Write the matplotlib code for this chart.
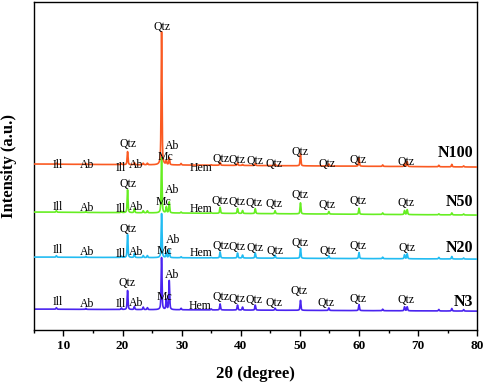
import numpy as np
import matplotlib
matplotlib.use("Agg")
import matplotlib.pyplot as plt

# ---- data (y in arbitrary units) ----
series_names = ["N3", "N20", "N50", "N100"]
colors = ["#4a24f0", "#22bcf2", "#66ee22", "#fa5a22"]
baseline_start = [21, 73, 118, 166]   # intensity offset at 5 deg
baseline_end = [19, 71, 115, 163]     # intensity offset at 80 deg

peak_pos = [8.8, 13.8, 19.8, 20.85, 22.0, 23.5, 24.2, 26.6, 27.4, 27.9,
            29.9, 35.0, 36.5, 39.45, 40.3, 42.45, 45.8, 50.1, 54.9, 60.0,
            64.0, 67.7, 68.15, 73.5, 75.7, 77.7]
heights = {
    "N100": [1, 1, 1, 13, 2, 1.5, 1.5, 133, 4, 7, 1.5, 0.5, 3, 2.5, 1, 2, 1.5,
             12, 2, 8, 1.5, 3, 5, 1.5, 2.5, 1],
    "N50": [1.5, 1, 1.5, 23, 4, 2, 2, 55, 6, 11, 1, 0.5, 6, 5, 3, 5, 3,
            11, 2.5, 6, 1.5, 4, 5, 1, 2, 1],
    "N20": [1.5, 1, 1.5, 23, 4, 2, 2, 44, 5, 8, 1, 0.5, 6, 5, 3, 5, 3,
            10, 2.5, 6, 1.5, 4, 5, 1.5, 2.5, 1],
    "N3": [1.5, 1, 1.5, 19, 3, 2.5, 2, 52, 10, 29, 1.5, 1, 6, 5, 3, 5, 2,
           10, 2.5, 6, 1.5, 4, 4, 1.5, 2.5, 1.5],
}

# phase labels: (text, x, y)
labels = {
    "N100": [("Ill", 9.1, 165), ("Ab", 14.0, 165), ("Ill", 19.7, 162), ("Ab", 22.3, 165),
             ("Qtz", 20.9, 186), ("Qtz", 26.6, 303), ("Ab", 28.4, 184), ("Mc", 27.2, 173),
             ("Hem", 33.2, 162), ("Qtz", 36.7, 171), ("Qtz", 39.4, 170), ("Qtz", 42.4, 169),
             ("Qtz", 45.6, 166), ("Qtz", 50.0, 178), ("Qtz", 54.6, 166), ("Qtz", 59.8, 170),
             ("Qtz", 68.0, 168)],
    "N50": [("Ill", 9.1, 123), ("Ab", 14.0, 122), ("Ill", 19.7, 121), ("Ab", 22.3, 123),
            ("Qtz", 20.9, 146), ("Ab", 28.4, 140), ("Mc", 27.0, 128), ("Hem", 33.2, 121),
            ("Qtz", 36.5, 129), ("Qtz", 39.3, 128), ("Qtz", 42.3, 127), ("Qtz", 45.6, 126),
            ("Qtz", 50.0, 135), ("Qtz", 54.6, 125), ("Qtz", 59.9, 129), ("Qtz", 68.0, 127)],
    "N20": [("Ill", 9.1, 80), ("Ab", 14.0, 78), ("Ill", 19.7, 76), ("Ab", 22.3, 78),
            ("Qtz", 20.9, 101), ("Ab", 28.5, 90), ("Mc", 27.1, 79), ("Hem", 33.3, 77),
            ("Qtz", 36.7, 84), ("Qtz", 39.4, 83), ("Qtz", 42.4, 82), ("Qtz", 45.8, 79),
            ("Qtz", 50.1, 87), ("Qtz", 54.8, 79), ("Qtz", 59.9, 84), ("Qtz", 68.1, 82)],
    "N3": [("Ill", 9.1, 28), ("Ab", 14.0, 26), ("Ill", 19.7, 26), ("Ab", 22.3, 27),
           ("Qtz", 20.8, 47), ("Ab", 28.3, 55), ("Mc", 27.1, 33), ("Hem", 33.1, 24),
           ("Qtz", 36.6, 33), ("Qtz", 39.3, 31), ("Qtz", 42.3, 30), ("Qtz", 45.6, 27),
           ("Qtz", 49.9, 39), ("Qtz", 54.5, 27), ("Qtz", 59.8, 31), ("Qtz", 67.9, 30)],
}
name_label_pos = {"N100": (76.3, 177), "N50": (77.0, 128), "N20": (77.0, 82), "N3": (77.6, 28)}

xticks = [10, 20, 30, 40, 50, 60, 70, 80]

# ---- plotting ----
plt.rcParams["font.family"] = ["Liberation Serif", "DejaVu Serif"]
fig = plt.figure(figsize=(4.84, 3.83), dpi=100)
ax = fig.add_axes([0.070, 0.138, 0.916, 0.857])

x = np.arange(5, 80.001, 0.01)
w = 0.1
for i, name in enumerate(series_names):
    base = np.interp(x, [5, 80], [baseline_start[i], baseline_end[i]])
    y = base.copy()
    for p, h in zip(peak_pos, heights[name]):
        y += h / (1 + ((x - p) / w) ** 2) * 0.4 + h * np.exp(-((x - p) / w) ** 2) * 0.6
    ax.plot(x, y, color=colors[i], lw=1.2, zorder=2 + i)
    for t, lx, ly in labels[name]:
        ax.text(lx, ly, t, fontsize=8.5, ha="center", va="center", zorder=10)
    nx, ny = name_label_pos[name]
    ax.text(nx, ny, name, fontsize=11.5, fontweight="bold", ha="center", va="center", zorder=10)

ax.set_xlim(5, 80)
ax.set_ylim(0, 328)
ax.set_xticks(xticks)
ax.set_xticks(np.arange(5, 81, 5), minor=True)
ax.set_yticks([])
ax.tick_params(axis="x", which="major", direction="out", length=4, width=1.0,
               labelsize=9.5, pad=3)
ax.tick_params(axis="x", which="minor", direction="out", length=2.5, width=1.0)
for lab in ax.get_xticklabels():
    lab.set_fontweight("bold")
for s in ax.spines.values():
    s.set_linewidth(1.0)
ax.set_xlabel("2θ (degree)", fontsize=12, fontweight="bold", labelpad=10)
ax.set_ylabel("Intensity (a.u.)", fontsize=12, fontweight="bold", labelpad=12)

fig.savefig("out.png", dpi=100)
